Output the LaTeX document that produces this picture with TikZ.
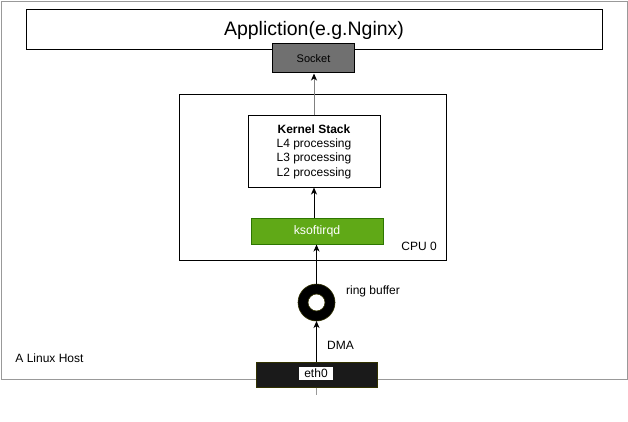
\documentclass[tikz,border=0pt]{standalone}
\usepackage{fontspec}
\setmainfont{Liberation Sans}
\usetikzlibrary{arrows.meta}
\definecolor{hostgray}{RGB}{153,153,153}
\definecolor{sockgray}{RGB}{112,112,112}
\definecolor{kgreen}{RGB}{96,169,23}
\definecolor{kgreenb}{RGB}{45,118,0}
\definecolor{olive}{RGB}{50,50,0}
\definecolor{ethfill}{RGB}{26,26,26}
\definecolor{linegray}{RGB}{128,128,128}
\tikzset{
  box/.style={draw=black, line width=1pt, fill=white, inner sep=0pt, rectangle},
  lbl/.style={font=\fontsize{12}{14}\selectfont, inner sep=0pt},
  arr/.style={draw=black, line width=1pt, -{Stealth[length=7pt,width=6pt,inset=2pt,color=black]}},
}
\begin{document}
\begin{tikzpicture}[x=1pt,y=-1pt]
\useasboundingbox (0,0) rectangle (628,422);
% host
\node[draw=hostgray, line width=1.2pt, rectangle, inner sep=0pt, minimum width=626.4pt, minimum height=378.4pt, anchor=north west] (host) at (0.8,0.8) {};
\node[lbl] (hostlbl) at (49.5,358) {A Linux Host};
% application
\node[box, minimum width=576pt, minimum height=40pt] (app) at (314,30) {\fontsize{19.5}{22}\selectfont Appliction(e.g.Nginx)};
\node[box, fill=sockgray, minimum width=82pt, minimum height=29pt] (sock) at (313.5,58.5) {\fontsize{11}{13}\selectfont Socket};
% cpu
\node[box, minimum width=267pt, minimum height=165pt] (cpu) at (312.5,177.5) {};
\node[lbl, anchor=east] (cpulbl) at (437,246.5) {CPU 0};
\node[box, minimum width=132pt, minimum height=71pt, align=center, font=\fontsize{12}{14.3}\selectfont] (kern) at (314,151.5) {\textbf{Kernel Stack}\\L4 processing\\L3 processing\\L2 processing};
\node[box, draw=kgreenb, fill=kgreen, text=white, minimum width=132pt, minimum height=26pt, font=\fontsize{12.3}{14}\selectfont] (ksoft) at (317,231) {ksoftirqd};
% ring buffer
\node[circle, draw=black, line width=10pt, minimum size=27pt, inner sep=0pt] (ring) at (316.5,302.5) {};
\draw[olive, line width=0.6pt] (ring.center) circle (18.5pt);
\draw[olive, line width=0.6pt] (ring.center) circle (8.5pt);
\node[lbl] (ringlbl) at (373,291.5) {ring buffer};
% eth0
\node[box, draw=olive, fill=ethfill, minimum width=121pt, minimum height=25pt] (eth) at (316.5,374.5) {};
\node[rectangle, fill=white, inner sep=0pt, minimum width=34pt, minimum height=13pt, font=\fontsize{12}{14}\selectfont] (ethlbl) at (316,373.5) {eth0};
\node[lbl] (dma) at (340.5,345) {DMA};
\coordinate (tail) at (316.5,395);
% connectors
\draw[hostgray, line width=1pt] (eth.south) -- (tail);
\draw[arr] (eth.north) -- (ring.south);
\draw[arr] (ring.north) -- (ksoft.south -| ring.north);
\draw[arr] (ksoft.north -| kern.south) -- (kern.south);
\draw[arr, draw=linegray] (kern.north) -- (sock.south -| kern.north);
\end{tikzpicture}
\end{document}
